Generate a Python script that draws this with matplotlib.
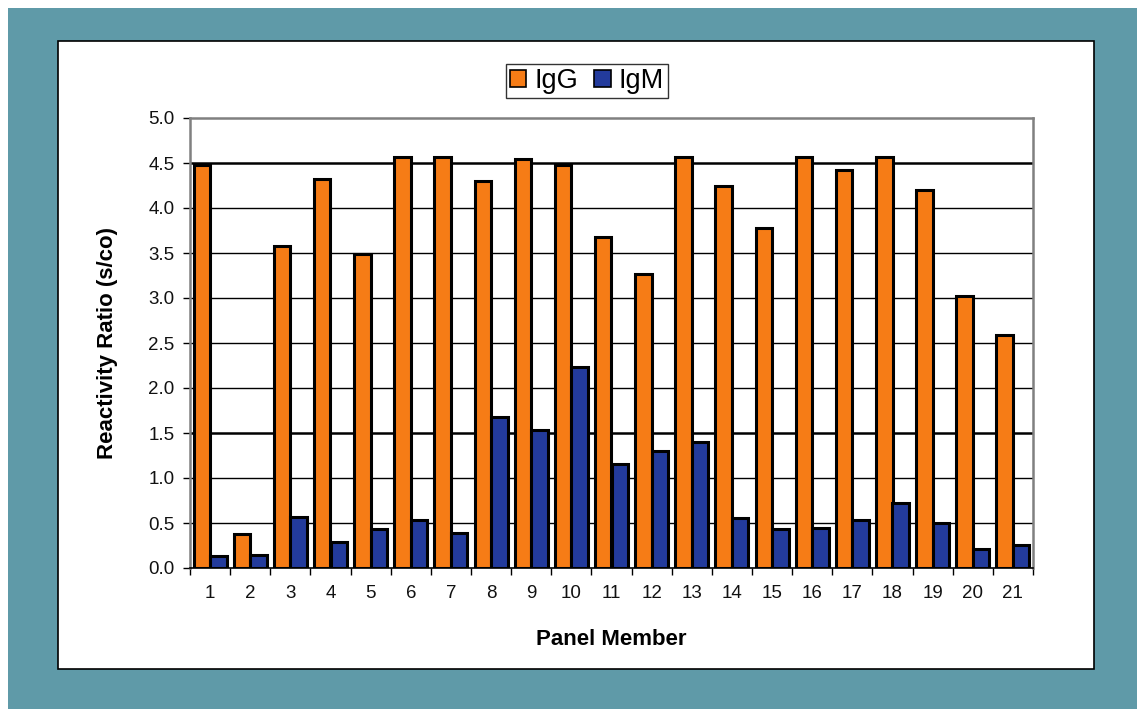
import matplotlib
matplotlib.use("Agg")
import matplotlib.pyplot as plt
from matplotlib.patches import Rectangle
import numpy as np

plt.rcParams['font.family'] = ['Liberation Sans', 'DejaVu Sans']

categories = [str(i) for i in range(1, 22)]
igg = [4.48, 0.38, 3.58, 4.32, 3.49, 4.57, 4.57, 4.30, 4.55, 4.48, 3.68,
       3.27, 4.57, 4.25, 3.78, 4.57, 4.42, 4.57, 4.20, 3.02, 2.59]
igm = [0.13, 0.15, 0.57, 0.29, 0.43, 0.53, 0.39, 1.68, 1.53, 2.23, 1.16,
       1.30, 1.40, 0.56, 0.43, 0.44, 0.53, 0.72, 0.50, 0.21, 0.26]
y_ticks = [0.0, 0.5, 1.0, 1.5, 2.0, 2.5, 3.0, 3.5, 4.0, 4.5, 5.0]

W, H = 1137, 709
fig = plt.figure(figsize=(W / 100, H / 100), dpi=100)
fig.patch.set_facecolor('white')

# teal frame and white panel
fig.patches.append(Rectangle((8 / W, 0), 1 - 8 / W, 1 - 8 / H, transform=fig.transFigure,
                             facecolor='#5F9AA8', edgecolor='none', zorder=0))
fig.patches.append(Rectangle((58 / W, 1 - 669 / H), (1094 - 58) / W, (669 - 41) / H,
                             transform=fig.transFigure, facecolor='white',
                             edgecolor='black', linewidth=1.2, zorder=1))

ax = fig.add_axes([190 / W, 1 - 568 / H, (1033 - 190) / W, (568 - 118) / H])
ax.set_zorder(2)
ax.set_facecolor('white')

x = np.arange(len(categories))
bw = 0.41
ax.bar(x - bw / 2, igg, bw, color='#F67C16', edgecolor='black', linewidth=2.2,
       label='IgG', zorder=3)
ax.bar(x + bw / 2, igm, bw, color='#233B9C', edgecolor='black', linewidth=2.2,
       label='IgM', zorder=3)

ax.set_xlim(-0.5, len(categories) - 0.5)
ax.set_ylim(0, 5.0)
ax.set_yticks(y_ticks)
ax.set_yticklabels([f"{v:.1f}" for v in y_ticks], fontsize=13.5, color='#111111')
for v in y_ticks[1:-1]:
    lw = 1.8 if v in (1.5, 4.5) else 1.0
    ax.axhline(v, color='black', linewidth=lw, zorder=1)

ax.set_xticks(x)
ax.set_xticklabels(categories, fontsize=13.5, color='#111111')
ax.tick_params(axis='x', which='major', length=0, pad=12)
ax.set_xticks(np.arange(-0.5, len(categories), 1.0), minor=True)
ax.tick_params(axis='x', which='minor', length=5, width=1.0, direction='out', color='black')
ax.tick_params(axis='y', length=5, width=1.0, direction='out', pad=6)

for s in ['top', 'right', 'left']:
    ax.spines[s].set_color('#808080')
    ax.spines[s].set_linewidth(1.8)
ax.spines['bottom'].set_color('black')
ax.spines['bottom'].set_linewidth(1.2)

ax.set_ylabel('Reactivity Ratio (s/co)', fontsize=16, fontweight='bold', labelpad=22)
ax.set_xlabel('Panel Member', fontsize=16, fontweight='bold', labelpad=20)

leg = fig.legend(loc='center', bbox_to_anchor=(587 / W, 1 - 81 / H), ncol=2,
                 fontsize=19.5, frameon=True, fancybox=False, edgecolor='black',
                 handlelength=0.6, handleheight=0.6, handletextpad=0.3,
                 columnspacing=0.6, borderpad=0.15, borderaxespad=0)
leg.get_frame().set_linewidth(1.0)
for h in leg.legend_handles:
    h.set_linewidth(1.2)

fig.savefig('out.png', dpi=100, facecolor='white')
